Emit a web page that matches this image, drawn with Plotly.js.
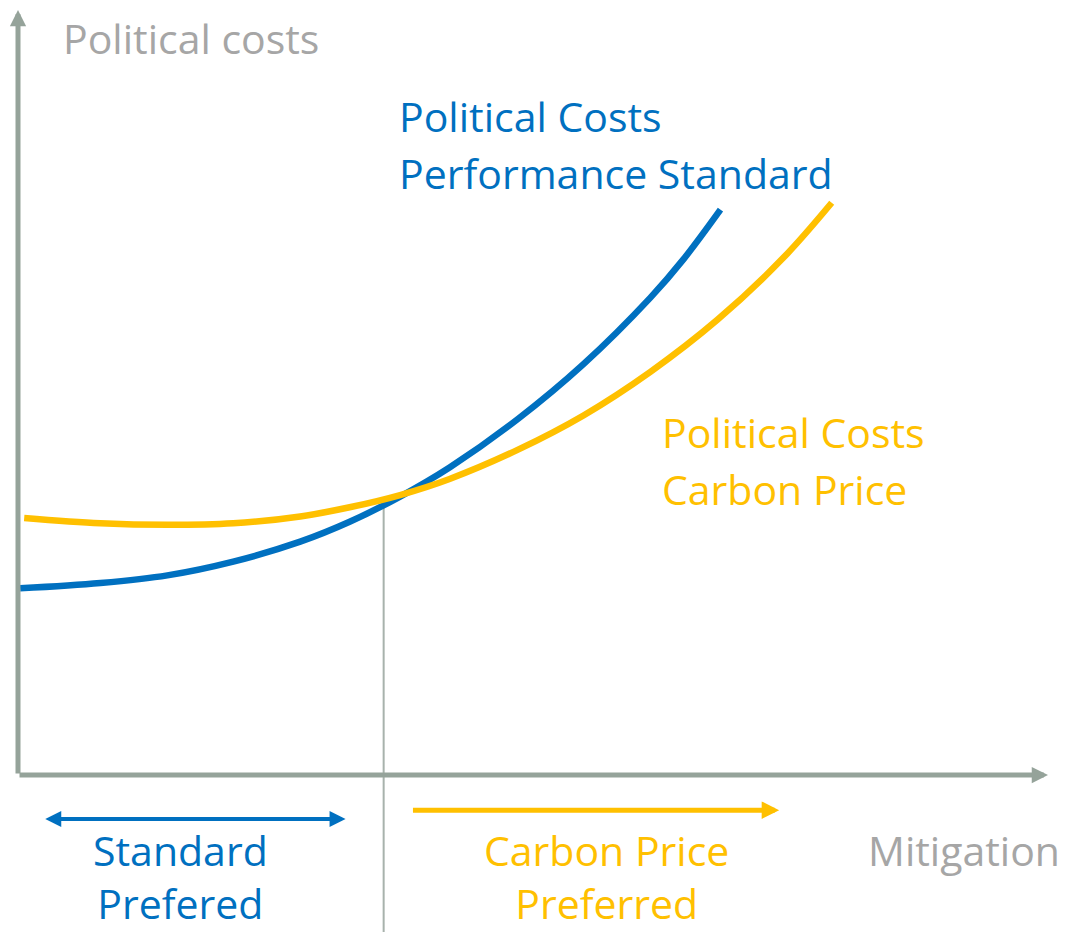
<!DOCTYPE html>
<html><head><meta charset="utf-8">
<script src="https://cdn.plot.ly/plotly-3.0.1.min.js"></script>
<style>html,body{margin:0;padding:0;background:#fff}#chart{width:1066px;height:932px}</style>
</head><body><div id="chart"></div>
<script>
// ---- data ----
const mitigationStandard = [0.2, 8.0, 14.5, 20.9, 27.4, 32.2, 37.1, 41.9, 48.5, 54.9, 61.4, 64.6, 68.2];
const costStandard       = [24.4, 25.1, 26.1, 27.9, 30.5, 33.1, 36.4, 40.2, 46.5, 53.7, 62.4, 67.4, 73.9];
const mitigationPrice    = [0.6, 8.0, 14.5, 20.9, 27.4, 32.2, 37.1, 41.9, 48.5, 54.9, 61.4, 67.9, 74.3, 79.0];
const costPrice          = [33.6, 32.9, 32.7, 32.9, 33.8, 35.0, 36.6, 38.7, 42.5, 47.0, 52.7, 59.5, 67.6, 74.8];
const crossover = [35.5, 36.2];          // mitigation, cost where the vertical marker meets the curves
const standardRange = [2.5, 31.8];       // "Standard preferred" span
const priceRange = [38.2, 73.9];         // "Carbon price preferred" span
const axisMax = [100, 100];

const axisTitles = ["Mitigation", "Political costs"];
const seriesLabels = [["Political Costs", "Performance Standard"], ["Political Costs", "Carbon Price"]];
const regionLabels = [["Standard", "Prefered"], ["Carbon Price", "Preferred"]];

// ---- styling ----
const BLUE = "#0070C0", GOLD = "#FFC000", GREY_TXT = "#A6A6A6", AXIS = "#95A39A", VLINE = "#A8B2AC";
const FONT = "Open Sans, Noto Sans, sans-serif";
const FS = 41;
const W = 1066, H = 932;
const ox = 18, oy = 775, xEnd = 1048, yEnd = 10;
const sx = (xEnd - ox) / axisMax[0], sy = (oy - yEnd) / axisMax[1];
const xRange = [-ox / sx, (W - ox) / sx];
const yRange = [-(H - oy) / sy, oy / sy];

const px = p => p / W, py = p => 1 - p / H;
function txt(text, x, y, color, xanchor, yanchor, align) {
  return {text, xref: "paper", yref: "paper", x: px(x), y: py(y), xanchor: xanchor || "left", yanchor: yanchor || "middle",
          align: align || "left", showarrow: false, borderpad: 0, font: {family: FONT, size: FS, color}};
}
function arrow(x, y, ax, ay, color, width, size, both) {
  return {x, y, ax, ay, xref: "x", yref: "y", axref: "x", ayref: "y", text: "", showarrow: true,
          arrowhead: 2, arrowsize: size, arrowwidth: width, arrowcolor: color, standoff: 0, startstandoff: 0,
          arrowside: both ? "end+start" : "end", startarrowhead: 2, startarrowsize: size};
}

const traces = [
  {x: mitigationStandard, y: costStandard, mode: "lines", line: {color: BLUE, width: 6.5, shape: "spline", smoothing: 1}, hoverinfo: "skip"},
  {x: mitigationPrice, y: costPrice, mode: "lines", line: {color: GOLD, width: 6.5, shape: "spline", smoothing: 1}, hoverinfo: "skip"}
];

const annotations = [
  arrow(axisMax[0], 0, 0, 0, AXIS, 5, 0.65),
  arrow(0, axisMax[1], 0, 0, AXIS, 5, 0.65),
  arrow(standardRange[1], -5.75, standardRange[0], -5.75, BLUE, 4, 0.8, true),
  arrow(priceRange[1], -4.6, priceRange[0], -4.6, GOLD, 5, 0.7),
  txt(axisTitles[1], 62, 38, GREY_TXT),
  txt(axisTitles[0], 867, 850, GREY_TXT),
  txt(seriesLabels[0][0], 398, 116, BLUE),
  txt(seriesLabels[0][1], 398, 173, BLUE),
  txt(seriesLabels[1][0], 661, 432, GOLD),
  txt(seriesLabels[1][1], 661, 489, GOLD),
  txt(regionLabels[0].join("<br>"), 181, 932, BLUE, "center", "bottom", "center"),
  txt(regionLabels[1].join("<br>"), 606, 932, GOLD, "center", "bottom", "center")
];

const layout = {
  width: W, height: H, margin: {l: 0, r: 0, t: 0, b: 0}, showlegend: false,
  paper_bgcolor: "#fff", plot_bgcolor: "#fff",
  xaxis: {range: xRange, visible: false, showgrid: false, zeroline: false, fixedrange: true},
  yaxis: {range: yRange, visible: false, showgrid: false, zeroline: false, fixedrange: true},
  shapes: [{type: "line", xref: "x", yref: "y", x0: crossover[0], x1: crossover[0], y0: yRange[0], y1: crossover[1],
            line: {color: VLINE, width: 2}, layer: "below"}],
  annotations
};
Plotly.newPlot("chart", traces, layout, {staticPlot: true, displayModeBar: false});
</script></body></html>
